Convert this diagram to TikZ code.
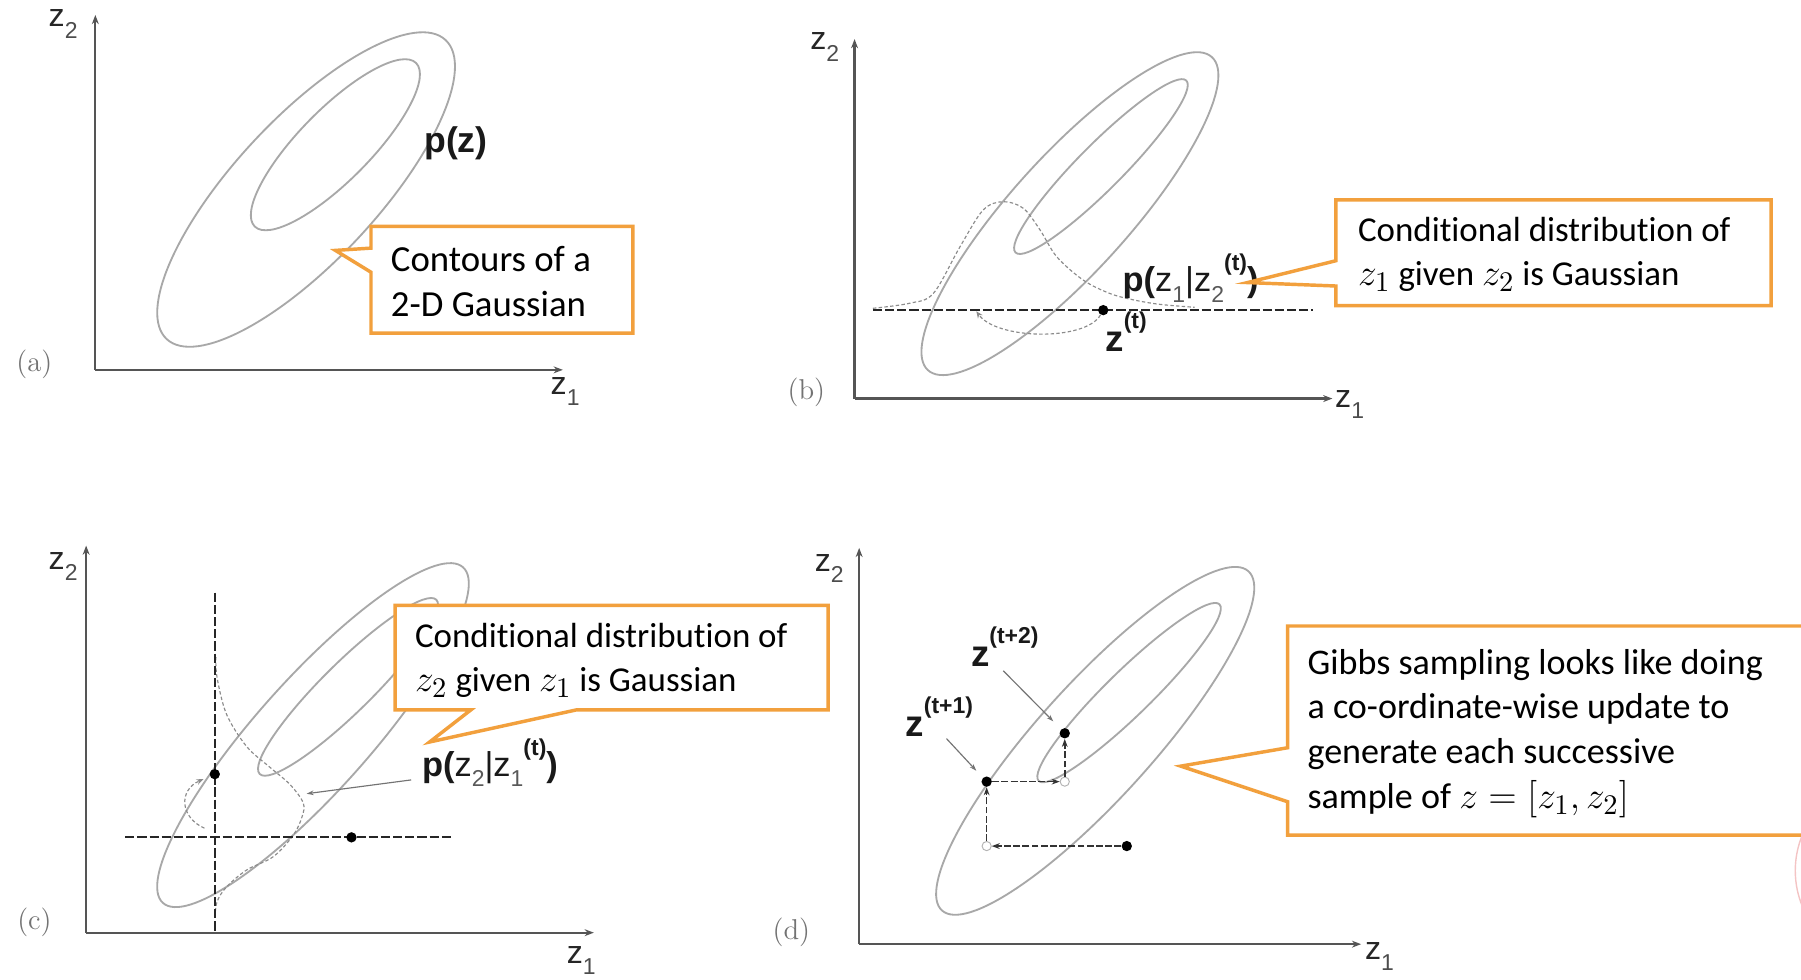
\documentclass[tikz,border=0pt]{standalone}
\usepackage{fontspec}
\usepackage{graphicx}
\newfontfamily\callfont[Ligatures={NoCommon}]{Carlito}
\newfontfamily\arialfont{Liberation Sans}
\usetikzlibrary{arrows.meta}
\definecolor{orng}{RGB}{242,160,61}
\definecolor{contgray}{RGB}{168,168,168}
\definecolor{axisgray}{RGB}{85,85,85}
\definecolor{pinkarc}{RGB}{244,196,196}
\newcommand{\axsub}[1]{\raisebox{-0.35em}{\fontsize{10}{10}\selectfont\color{black!70}#1}}
\newcommand{\lsub}[1]{\raisebox{-0.3em}{\fontsize{10}{10}\selectfont\mdseries\color{black!65}#1}}
\newcommand{\lsup}[1]{\raisebox{0.62em}{\fontsize{10}{10}\selectfont\bfseries #1}}
\newcommand{\mth}[1]{\scalebox{1.13}{$#1$}}
\begin{document}
\begin{tikzpicture}[x=0.5pt,y=-0.5pt,
  contline/.style={draw=contgray, line width=0.8pt},
  axisline/.style={draw=axisgray, line width=1pt, -{Stealth[length=4pt,width=3pt]}},
  condline/.style={draw=black!85, line width=0.85pt, dash pattern=on 4pt off 1.3pt},
  gausscurve/.style={draw=black!45, line width=0.5pt, dash pattern=on 1.5pt off 1pt},
  callout/.style={draw=orng, line width=1.5pt, fill=white, line join=miter},
  calltext/.style={font=\callfont\fontsize{16}{19.5}\selectfont, align=left, anchor=west, inner sep=0pt},
  calltextn/.style={font=\callfont\fontsize{15.2}{19.5}\selectfont, align=left, anchor=west, inner sep=0pt},
  calltextd/.style={font=\callfont\fontsize{15.7}{19.5}\selectfont, align=left, anchor=west, inner sep=0pt},
  axlabel/.style={font=\arialfont\fontsize{14}{14}\selectfont, text=black!85, inner sep=0pt},
  panlabel/.style={font=\fontsize{12.5}{12.5}\selectfont, text=black!55, inner sep=0pt},
  plabel/.style={font=\arialfont\fontsize{15}{15}\selectfont, text=black!90, inner sep=0pt},
  zlabel/.style={font=\arialfont\bfseries\fontsize{16}{16}\selectfont, text=black!90, inner sep=0pt, anchor=base west},
  blackdot/.style={circle, fill=black, inner sep=0pt, minimum size=4.5pt},
  opendot/.style={circle, draw=black!30, fill=white, inner sep=0pt, minimum size=4pt, line width=0.4pt},
  gibbs/.style={draw=black!80, line width=0.7pt, dash pattern=on 3pt off 1pt, -{Stealth[length=3.5pt,width=2.5pt]}},
  leader/.style={draw=black!55, line width=0.5pt, -{Stealth[length=3pt,width=2pt]}},
  arcarrow/.style={gausscurve, -{Stealth[length=3pt,width=2.5pt]}}
]
\useasboundingbox (0,0) rectangle (1568,853);
\clip (0,0) rectangle (1568,853);
\fill[white] (0,0) rectangle (1568,853);

% ================= panel (a) =================
\draw[contline, rotate around={47:(266.5,165)}] (266.5,165) ellipse [x radius=89pt, y radius=31pt];
\draw[contline, rotate around={45.4:(292,126)}] (292,126) ellipse [x radius=50pt, y radius=15.5pt];
\coordinate (oa) at (83,322);
\coordinate (ya) at (83,13);
\coordinate (xa) at (490,322);
\draw[axisline] (oa) -- (ya);
\draw[axisline] (oa) -- (xa);
\node[axlabel] (z2a) at (55,21) {z\axsub{2}};
\node[axlabel] (z1a) at (492,341) {z\axsub{1}};
\node[panlabel] (la) at (30,317) {(a)};
\node[plabel, font=\arialfont\bfseries\fontsize{15.5}{15.5}\selectfont] (pz) at (397,125) {p(z)};
\draw[callout] (323,197) -- (551,197) -- (551,290) -- (323,290) -- (323,237) -- (292,218) -- (323,216) -- cycle;
\node[calltext] (ta) at (340,245) {Contours of a\\2-D Gaussian};

% ================= panel (b) =================
\draw[contline, rotate around={47.8:(931.5,186)}] (931.5,186) ellipse [x radius=92pt, y radius=25.5pt];
\draw[contline, rotate around={45.2:(958.5,145)}] (958.5,145) ellipse [x radius=52.75pt, y radius=9.75pt];
\coordinate (ob) at (744,347);
\coordinate (yb) at (744,34);
\coordinate (xb) at (1160,347);
\draw[axisline] (ob) -- (yb);
\draw[axisline] (ob) -- (xb);
\node[axlabel] (z2b) at (718,41) {z\axsub{2}};
\node[axlabel] (z1b) at (1175,352) {z\axsub{1}};
\node[panlabel] (lb) at (702,342) {(b)};
\draw[gausscurve] plot[smooth, tension=0.55] coordinates {(760,268.4) (792,264) (812.6,255.4) (835.8,214.8) (856,182.8) (873.5,175.6) (891,181.4) (905.5,200.2) (920,223.5) (943,243.8) (966,255.4) (986.5,261) (1010,265) (1040,267.5)};
\coordinate (bl) at (760,269.5);
\coordinate (br) at (1143,269.5);
\draw[condline] (bl) -- (br);
\node[blackdot] (zt) at (960.5,270) {};
\coordinate (barc) at (850,271);
\draw[arcarrow] (zt) .. controls (945,297) and (868,296) .. (barc);
\node[zlabel] (ztl) at (962,306) {z\lsup{(t)}};
\node[plabel, anchor=base west] (pcb) at (977,254) {\bfseries p(\mdseries z\lsub{1}|z\lsub{2}\lsup{(t)}\bfseries)};
\draw[callout] (1163,174) -- (1542,174) -- (1542,266) -- (1163,266) -- (1163,249) -- (1086,246) -- (1163,227) -- cycle;
\node[calltextn] (tb) at (1182,221.5) {Conditional distribution of\\\mth{z_1} given \mth{z_2} is Gaussian};

% ================= panel (c) =================
\draw[contline, rotate around={48.2:(272.5,640)}] (272.5,640) ellipse [x radius=98pt, y radius=24.5pt];
\draw[contline, rotate around={44.6:(303,598)}] (303,598) ellipse [x radius=54pt, y radius=10.75pt];
\coordinate (oc) at (75,812);
\coordinate (yc) at (75,475);
\coordinate (xc) at (517,812);
\draw[axisline] (oc) -- (yc);
\draw[axisline] (oc) -- (xc);
\node[axlabel] (z2c) at (55,493) {z\axsub{2}};
\node[axlabel] (z1c) at (506,836) {z\axsub{1}};
\node[panlabel] (lc) at (30,803) {(c)};
\draw[gausscurve] plot[smooth, tension=0.55] coordinates {(188,572) (189,590) (197.3,622) (214.8,650) (235,668) (252.5,683) (264,699) (263,711) (255.4,727) (238,745.8) (214.8,757.4) (197.4,772) (189,785) (187,800)};
\coordinate (ct) at (187,516);
\coordinate (cb) at (187,812);
\draw[condline] (ct) -- (cb);
\coordinate (cl) at (109,729);
\coordinate (cr) at (395,729);
\draw[condline] (cl) -- (cr);
\node[blackdot] (c1) at (187,674) {};
\node[blackdot] (c0) at (306,729) {};
\coordinate (carcs) at (178,721);
\draw[arcarrow, shorten >=3pt] (carcs) .. controls (157,712) and (155,688) .. (c1);
\node[plabel, anchor=base west] (pcc) at (367,676) {\bfseries p(\mdseries z\lsub{2}|z\lsub{1}\lsup{(t)}\bfseries)};
\coordinate (cls) at (358,679);
\coordinate (cpt) at (267,691);
\draw[leader] (cls) -- (cpt);
\draw[callout] (344,527) -- (721,527) -- (721,618) -- (502,618) -- (374,646) -- (410,618) -- (344,618) -- cycle;
\node[calltextn] (tc) at (361,575) {Conditional distribution of\\\mth{z_2} given \mth{z_1} is Gaussian};

% ================= panel (d) =================
\draw[contline, rotate around={47.9:(953.5,645)}] (953.5,645) ellipse [x radius=99.5pt, y radius=25pt];
\draw[contline, rotate around={44.3:(983,603)}] (983,603) ellipse [x radius=55pt, y radius=9.75pt];
\coordinate (od) at (748,822);
\coordinate (yd) at (748,477);
\coordinate (xd) at (1185,822);
\draw[axisline] (od) -- (yd);
\draw[axisline] (od) -- (xd);
\node[axlabel] (z2d) at (722,495) {z\axsub{2}};
\node[axlabel] (z1d) at (1201,833) {z\axsub{1}};
\node[panlabel] (ld) at (689,812) {(d)};
\node[blackdot] (p0) at (981,736.6) {};
\node[opendot] (q1) at (859,736.6) {};
\node[blackdot] (p1) at (859,680.5) {};
\node[opendot] (q2) at (927,680.5) {};
\node[blackdot] (p2) at (927,638.4) {};
\draw[gibbs] (p0) -- (q1);
\draw[gibbs] (q1) -- (p1);
\draw[gibbs] (p1) -- (q2);
\draw[gibbs] (q2) -- (p2);
\node[zlabel] (zt2) at (845,580) {z\lsup{(t+2)}};
\node[zlabel] (zt1) at (788,641) {z\lsup{(t+1)}};
\coordinate (l2s) at (873.5,584);
\coordinate (l2e) at (917,628);
\draw[leader] (l2s) -- (l2e);
\coordinate (l1s) at (824,643);
\coordinate (l1e) at (850,671);
\draw[leader] (l1s) -- (l1e);
\draw[callout] (1121,545) -- (1600,545) -- (1600,727) -- (1121,727) -- (1121,698) -- (1028,667) -- (1121,651) -- cycle;
\node[calltextd] (td) at (1138,638.5) {Gibbs sampling looks like doing\\a co-ordinate-wise update to\\generate each successive\\sample of \mth{z=[z_1,z_2]}};

% faint cut-off arc at the right edge
\draw[pinkarc, line width=0.6pt] (1644,758) circle (40.5pt);
\end{tikzpicture}
\end{document}
